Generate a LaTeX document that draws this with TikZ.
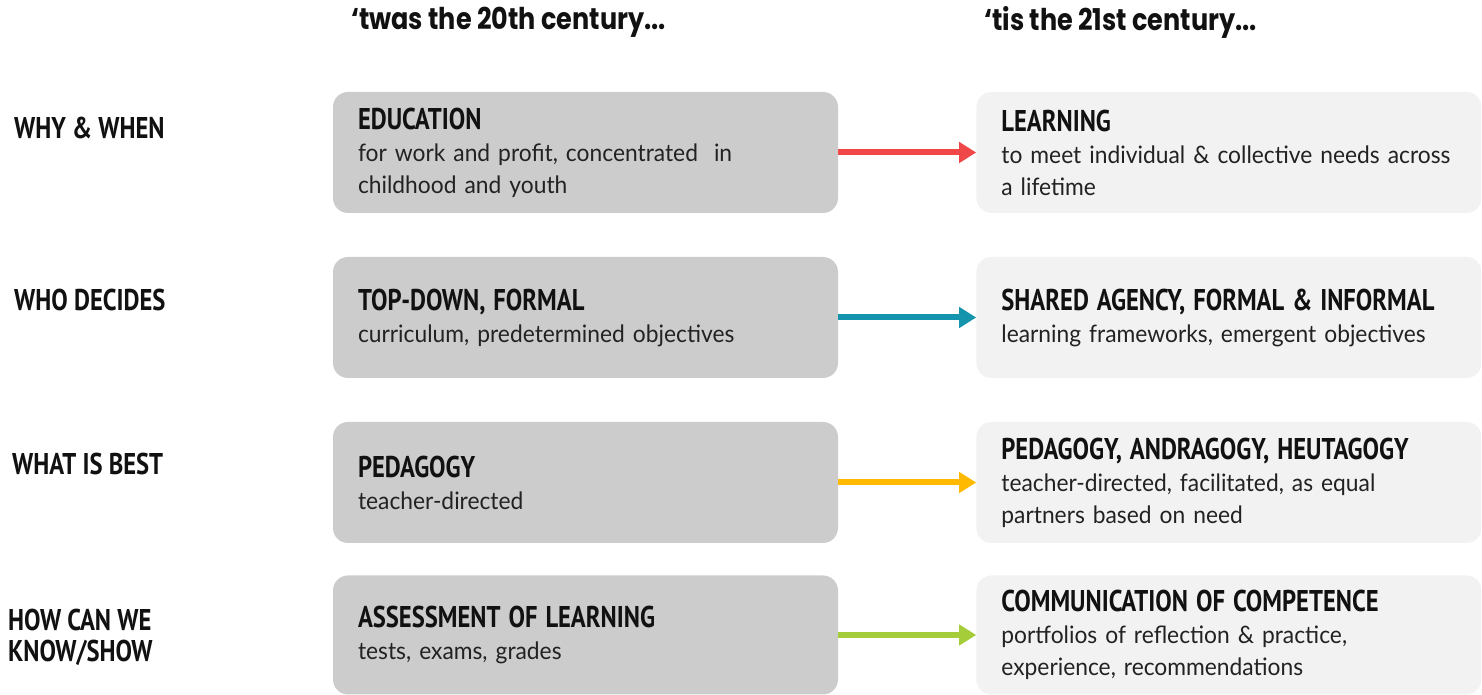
\documentclass[tikz,border=0pt]{standalone}
\usepackage{fontspec}
\setmainfont{Lato}[FakeStretch=0.95]
\newfontfamily\headfont[FakeStretch=0.82]{PT Sans}
\newfontfamily\titfont[FakeStretch=0.85]{Poppins}
\usetikzlibrary{positioning,arrows.meta}

\definecolor{oldgray}{HTML}{CCCCCC}
\definecolor{newgray}{HTML}{F2F2F2}
\definecolor{inkdark}{HTML}{111111}
\definecolor{inkbody}{HTML}{222222}
\definecolor{arrowred}{HTML}{F04848}
\definecolor{arrowteal}{HTML}{1594AE}
\definecolor{arrowyellow}{HTML}{FFBA00}
\definecolor{arrowgreen}{HTML}{A5CC39}

\newcommand{\cab}[1]{{\color{inkdark}\headfont\bfseries\fontsize{30}{32}\selectfont #1}}

\tikzset{
  oldbox/.style={fill=oldgray, rounded corners=15pt, minimum height=121pt,
    text width=455pt, inner xsep=25pt, align=left, text=inkbody,
    font=\fontsize{24}{32}\selectfont},
  newbox/.style={oldbox, fill=newgray},
  rowlabel/.style={anchor=west, align=left, text=inkdark, inner sep=0pt,
    font=\headfont\bfseries\fontsize{30}{31}\selectfont},
  coltitle/.style={anchor=west, text=inkdark, inner sep=0pt,
    font=\titfont\bfseries\fontsize{30}{32}\selectfont},
  shift arrow/.style={line width=6pt, -{Triangle[length=17pt,width=20pt]}}
}

\begin{document}
\begin{tikzpicture}[x=1pt,y=1pt]
\useasboundingbox (0,0) rectangle (1482,695);

% titulos de columna
	\node[coltitle] (then) at (351,673) {‘twas the 20th century...};
	\node[coltitle] (now) at (984,673) {‘tis the 21st century...};

% etiquetas de fila
	\node[rowlabel] (whywhen) at (14,567) {WHY \& WHEN};
	\node[rowlabel] (whodecides) at (14,395) {WHO DECIDES};
	\node[rowlabel] (whatbest) at (12,231) {WHAT IS BEST};
	\node[rowlabel] (howknow) at (8,58) {HOW CAN WE\\KNOW/SHOW};

% cajas del siglo XX
	\node[oldbox] (education) at (585.5,542.5)
		{\cab{EDUCATION}\\for work and profit, concentrated\ \ in\\childhood and youth};
	\node[oldbox] (topdown) at (585.5,377.5)
		{\cab{TOP-DOWN, FORMAL}\\curriculum, predetermined objectives};
	\node[oldbox] (pedagogy) at (585.5,212.5)
		{\cab{PEDAGOGY}\\teacher-directed};
	\node[oldbox, minimum height=119pt] (assessment) at (585.5,60)
		{\cab{ASSESSMENT OF LEARNING}\\tests, exams, grades};

% cajas del siglo XXI
	\node[newbox, right=138pt of education] (learning)
		{\cab{LEARNING}\\to meet individual \& collective needs across\\a lifetime};
	\node[newbox, right=138pt of topdown] (shared)
		{\cab{SHARED AGENCY, FORMAL \& INFORMAL}\\learning frameworks, emergent objectives};
	\node[newbox, right=138pt of pedagogy] (heutagogy)
		{\cab{PEDAGOGY, ANDRAGOGY, HEUTAGOGY}\\teacher-directed, facilitated, as equal\\partners based on need};
	\node[newbox, minimum height=119pt, right=138pt of assessment] (competence)
		{\cab{COMMUNICATION OF COMPETENCE}\\portfolios of reflection \& practice,\\experience, recommendations};

% flechas
	\foreach \a/\b/\c in {education/learning/arrowred, topdown/shared/arrowteal,
		pedagogy/heutagogy/arrowyellow, assessment/competence/arrowgreen}
		\draw[shift arrow, \c] (\a) -- (\b);
\end{tikzpicture}
\end{document}
